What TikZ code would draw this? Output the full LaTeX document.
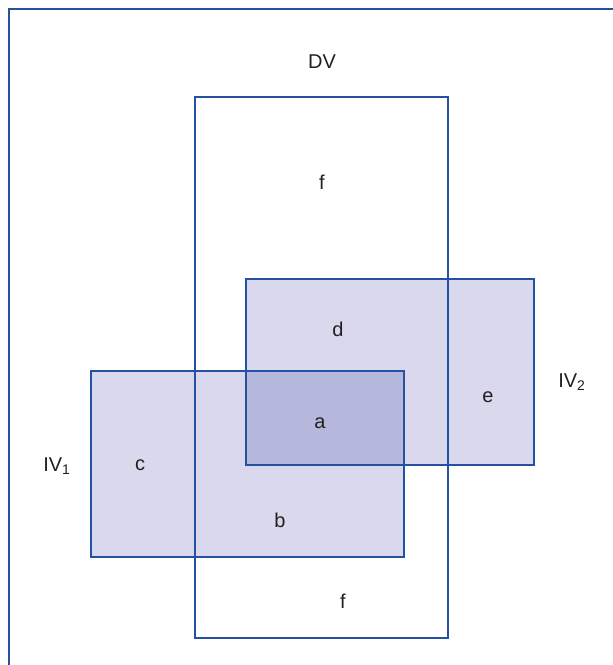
\documentclass[tikz,border=0pt]{standalone}
\usepackage{fontspec}
\setmainfont{Liberation Sans}

\definecolor{boxline}{HTML}{2452A0}
\definecolor{shadeA}{HTML}{D9D8EC}
\definecolor{shadeB}{HTML}{B5B7DC}
\definecolor{ink}{HTML}{231F20}

\begin{document}
\begin{tikzpicture}[x=0.75pt, y=-0.75pt, font=\fontsize{15}{18}\selectfont, text=ink]
    \useasboundingbox (0,0) rectangle (613,665);

    % frame
    \draw[boxline, line width=0.8pt] (9,665) -- (9,9) -- (613,9);

    % shaded areas of IV1 and IV2, overlap darker
    \fill[shadeA] (246,279) rectangle (534,465);
    \fill[shadeA] (91,371) rectangle (404,557);
    \fill[shadeB] (246,371) rectangle (404,465);

    % outlines
    \draw[boxline, line width=1.6pt] (195,97) rectangle (448,638);
    \draw[boxline, line width=1.6pt] (246,279) rectangle (534,465);
    \draw[boxline, line width=1.6pt] (91,371) rectangle (404,557);

    % labels
    \node (DV) at (322,62) {DV};
    \node (IVa) at (57,466) {IV\textsubscript{1}};
    \node (IVb) at (572,382) {IV\textsubscript{2}};

    \node (f1) at (322,182) {f};
    \node (d) at (338,329) {d};
    \node (a) at (320,423) {a};
    \node (e) at (488,397) {e};
    \node (c) at (140,465) {c};
    \node (b) at (280,520) {b};
    \node (f2) at (343,601) {f};

\end{tikzpicture}
\end{document}
